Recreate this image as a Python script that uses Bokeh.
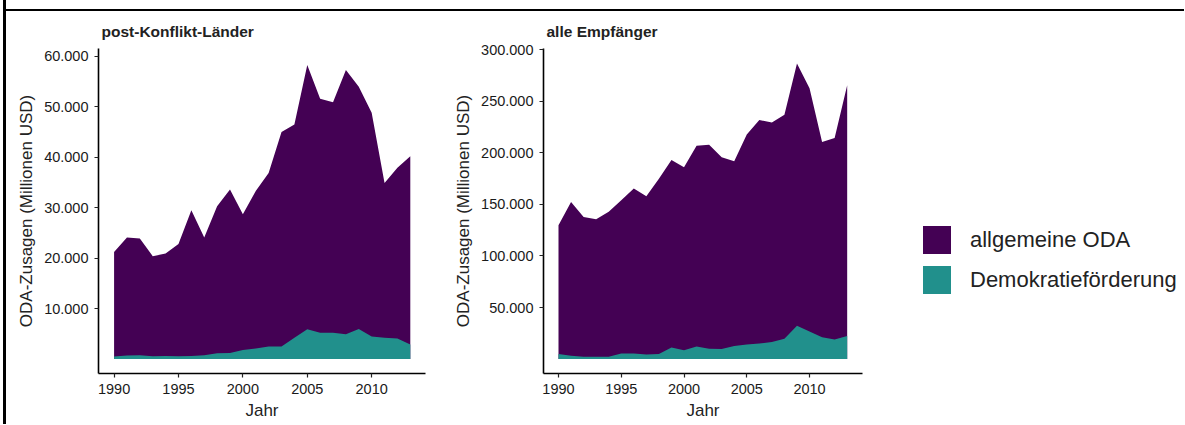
from bokeh.plotting import figure
from bokeh.models import Range1d, FixedTicker, CustomJSTickFormatter, Legend, LegendItem, Spacer, Div
from bokeh.layouts import row, column
from bokeh.embed import file_html
from bokeh.resources import INLINE

# ---------------- data ----------------
years = list(range(1990, 2014))
pk_general = [21200, 24100, 23900, 20400, 20900, 22800, 29500, 24100, 30300, 33600,
              28700, 33300, 36900, 45000, 46500, 58300, 51600, 50900, 57300, 54000,
              48800, 34900, 37900, 40200]
pk_democracy = [500, 700, 750, 550, 600, 550, 600, 750, 1150, 1200,
                1800, 2100, 2500, 2500, 4200, 5900, 5200, 5200, 4900, 5950,
                4450, 4200, 4050, 2900]
all_general = [129800, 152300, 137800, 135600, 143000, 154000, 165500, 158000, 175000, 193000,
               186000, 206800, 207800, 195800, 192000, 217800, 232000, 229400, 237000, 286700,
               262800, 210600, 214500, 265500]
all_democracy = [5000, 3100, 2200, 2200, 2200, 5300, 5300, 4300, 5000, 11100,
                 8500, 12100, 10100, 9800, 12700, 14000, 15000, 16600, 19800, 32400,
                 26600, 21100, 18900, 22400]
x_ticks = [1990, 1995, 2000, 2005, 2010]
pk_y_ticks = [10000, 20000, 30000, 40000, 50000, 60000]
all_y_ticks = [50000, 100000, 150000, 200000, 250000, 300000]
series_names = ["allgemeine ODA", "Demokratieförderung"]
panel_titles = ["post-Konflikt-Länder", "alle Empfänger"]
x_title = "Jahr"
y_title = "ODA-Zusagen (Millionen USD)"

# ---------------- style ----------------
PURPLE = "#440154"
TEAL = "#21908C"
FONT = "Liberation Sans"
H = 413
TOP = 36
FRAME_H = 326
BOTTOM = H - TOP - FRAME_H

fmt = CustomJSTickFormatter(code="""
return Math.round(tick).toString().replace(/\\B(?=(\\d{3})+(?!\\d))/g, '.');
""")


def make_panel(general, democracy, subtitle, yticks, x0, x1, y0, y1, width, bl, br):
    p = figure(width=width, height=H, x_range=Range1d(x0, x1), y_range=Range1d(y0, y1),
               output_backend="svg", toolbar_location=None, title=subtitle,
               min_border_left=bl, min_border_right=br,
               min_border_top=TOP, min_border_bottom=BOTTOM)
    p.varea(x=years, y1=0, y2=general, fill_color=PURPLE)
    p.varea(x=years, y1=0, y2=democracy, fill_color=TEAL)
    p.xgrid.visible = False
    p.ygrid.visible = False
    p.outline_line_color = None
    p.background_fill_color = "white"
    p.border_fill_color = "white"

    for ax in (p.xaxis[0], p.yaxis[0]):
        ax.axis_line_color = "black"
        ax.axis_line_width = 1.6
        ax.major_tick_line_color = "#222222"
        ax.major_tick_line_width = 1.2
        ax.major_tick_out = 4
        ax.major_tick_in = 0
        ax.minor_tick_line_color = None
        ax.major_label_text_font = FONT
        ax.major_label_text_font_size = "14.5px"
        ax.major_label_text_color = "#1a1a1a"
        ax.axis_label_text_font = FONT
        ax.axis_label_text_font_size = "17px"
        ax.axis_label_text_font_style = "normal"
        ax.axis_label_text_color = "#222222"
    p.xaxis.ticker = FixedTicker(ticks=x_ticks)
    p.xaxis.major_label_standoff = 6
    p.xaxis.axis_label = x_title
    p.xaxis.axis_label_standoff = 4
    p.yaxis.ticker = FixedTicker(ticks=yticks)
    p.yaxis.formatter = fmt
    p.yaxis.major_label_standoff = 6
    p.yaxis.axis_label = y_title
    p.yaxis.axis_label_standoff = 5

    p.title.text_font = FONT
    p.title.text_font_size = "15.5px"
    p.title.text_font_style = "bold"
    p.title.text_color = "#222222"
    p.title.align = "left"
    p.title.offset = 3
    p.title.standoff = 18
    return p


p1 = make_panel(pk_general, pk_democracy, panel_titles[0], pk_y_ticks,
                1988.79, 2014.18, -2866, 61561, 434, 92, 15)
p2 = make_panel(all_general, all_democracy, panel_titles[1], all_y_ticks,
                1988.805, 2014.22, -14023, 301257, 440, 103, 18)

# legend panel
p3 = figure(width=304, height=H, x_range=Range1d(0, 1), y_range=Range1d(0, 1),
            output_backend="svg", toolbar_location=None, title=None,
            min_border_left=0, min_border_right=0, min_border_top=TOP, min_border_bottom=BOTTOM)
p3.axis.visible = False
p3.grid.visible = False
p3.outline_line_color = None
lr1 = p3.varea(x=[5, 6], y1=[0, 0], y2=[1, 1], fill_color=PURPLE)
lr2 = p3.varea(x=[5, 6], y1=[0, 0], y2=[1, 1], fill_color=TEAL)
legend = Legend(items=[LegendItem(label=series_names[0], renderers=[lr1]),
                       LegendItem(label=series_names[1], renderers=[lr2])],
                location=(39, 76), orientation="vertical",
                glyph_width=35, glyph_height=35, spacing=5, label_standoff=16,
                padding=0, margin=0, border_line_color=None, background_fill_alpha=0,
                label_text_font=FONT, label_text_font_size="22px", label_text_color="#222222",
                label_height=35)
p3.add_layout(legend)

# frame lines (left vertical and top horizontal rule)
vline = Div(text="", width=3, height=424, margin=0, styles={"background-color": "black"})
hline = Div(text="", width=1178, height=2, margin=0, styles={"background-color": "black"})

layout = row(Spacer(width=3, height=424, margin=0), vline,
             column(Spacer(width=1178, height=9, margin=0), hline, row(p1, p2, p3)))
open("out.html", "w").write(file_html(layout, INLINE))
